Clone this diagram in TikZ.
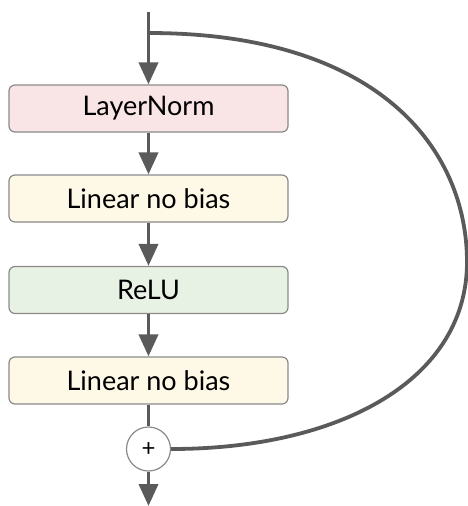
\documentclass[tikz,border=0pt]{standalone}
\usepackage{fontspec}
\setmainfont{Lato}
\usetikzlibrary{arrows.meta}
\definecolor{linec}{HTML}{5A5A5A}
\definecolor{boxborder}{HTML}{8A8A8A}
\definecolor{pinkfill}{HTML}{FAE5E6}
\definecolor{yellowfill}{HTML}{FEF8E6}
\definecolor{greenfill}{HTML}{E8F2E4}
\tikzset{
  block/.style={draw=boxborder, line width=1.2pt, rounded corners=6pt,
    minimum width=279pt, minimum height=47pt, inner sep=0pt,
    font=\fontsize{27}{30}\selectfont},
  flow/.style={draw=linec, line width=3.8pt,
    -{Triangle[width=19pt,length=22pt]}},
  skip/.style={draw=linec, line width=3.8pt},
  adder/.style={circle, draw=boxborder, line width=1.2pt, fill=white,
    minimum size=44pt, inner sep=0pt, font=\fontsize{24}{26}\selectfont}
}
\begin{document}
\begin{tikzpicture}[x=1pt,y=-1pt]
\useasboundingbox (0,0) rectangle (468,506);
\coordinate (start) at (148.5,12);
\coordinate (branch) at (148.5,33);
\coordinate (out) at (148.5,506);
\node[block, fill=pinkfill] (ln) at (148.5,108.5) {LayerNorm};
\node[block, fill=yellowfill] (lin1) at (148.5,198.5) {Linear no bias};
\node[block, fill=greenfill] (relu) at (148.5,290) {ReLU};
\node[block, fill=yellowfill] (lin2) at (148.5,380.5) {Linear no bias};
\node[adder] (plus) at (148.5,449) {+};
\draw[skip] (branch) .. controls (380,33) and (467,150) .. (467,262)
  .. controls (467,380) and (340,449) .. (plus.east);
\draw[flow] (start) -- (ln.north);
\draw[flow] (ln.south) -- (lin1.north);
\draw[flow] (lin1.south) -- (relu.north);
\draw[flow] (relu.south) -- (lin2.north);
\draw[skip] (lin2.south) -- (plus.north);
\draw[flow] (plus.south) -- (out);
\end{tikzpicture}
\end{document}
